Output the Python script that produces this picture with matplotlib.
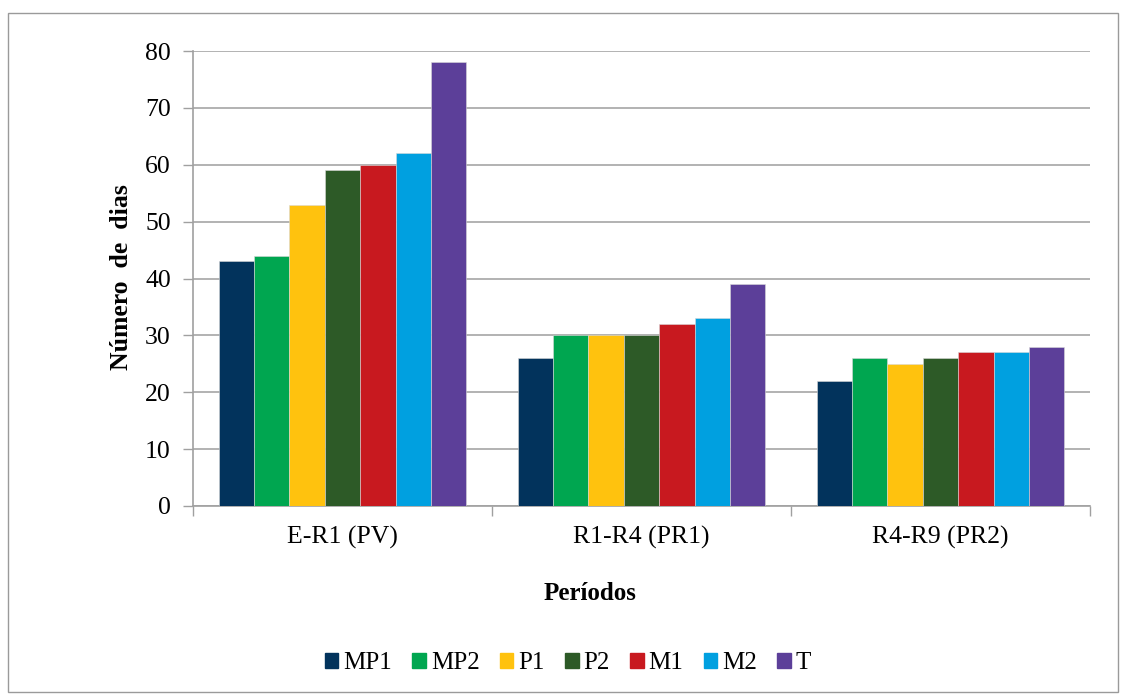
import matplotlib
matplotlib.use("Agg")
import matplotlib.pyplot as plt
import numpy as np
from matplotlib.patches import Rectangle

categories = ["E-R1 (PV)", "R1-R4 (PR1)", "R4-R9 (PR2)"]
series_names = ["MP1", "MP2", "P1", "P2", "M1", "M2", "T"]
MP1 = [43, 26, 22]
MP2 = [44, 30, 26]
P1 = [53, 30, 25]
P2 = [59, 30, 26]
M1 = [60, 32, 27]
M2 = [62, 33, 27]
T = [78, 39, 28]
series_values = [MP1, MP2, P1, P2, M1, M2, T]
colors = ["#02335C", "#00A650", "#FFC20E", "#2D5A27", "#C8191F", "#00A0E0", "#5C3F99"]
yticks = [0, 10, 20, 30, 40, 50, 60, 70, 80]

plt.rcParams['font.family'] = ['Liberation Serif', 'DejaVu Serif']

fig = plt.figure(figsize=(11.23, 6.95), dpi=100)
# outer border
fig.patches.append(Rectangle((8/1123, 1-692/695), 1110/1123, (692-13)/695,
                             transform=fig.transFigure, fill=False,
                             edgecolor="#9A9A9A", linewidth=1.0))

ax = fig.add_axes([193/1123, 1-506/695, (1090-193)/1123, (506-51)/695])
n = len(series_names)
group_w = 0.828
bw = group_w / n
x = np.arange(len(categories))
for i, (name, vals, c) in enumerate(zip(series_names, series_values, colors)):
    ax.bar(x - group_w/2 + bw*(i+0.5), vals, width=bw, color=c, label=name,
           edgecolor="#d8d8d8", linewidth=0.4, zorder=3)

ax.set_xlim(-0.5, len(categories)-0.5)
ax.set_ylim(0, 80)
ax.set_yticks(yticks)
ax.tick_params(axis='y', labelsize=18.5, length=7, width=1, color="#A0A0A0", pad=9, direction='out')
ax.set_xticks(x)
ax.set_xticklabels(categories, fontsize=18.5)
ax.tick_params(axis='x', length=0, pad=14)
# category separator ticks
ax.set_xticks(np.arange(len(categories)+1) - 0.5, minor=True)
ax.tick_params(axis='x', which='minor', length=7, width=1, color="#A0A0A0", direction='out')
ax.yaxis.grid(True, color="#A6A6A6", linewidth=1.2, zorder=0)
ax.set_axisbelow(True)
for s in ["top", "right"]:
    ax.spines[s].set_visible(False)
for s in ["left", "bottom"]:
    ax.spines[s].set_color("#A0A0A0")
    ax.spines[s].set_linewidth(1.2)

fig.text(121/1123, 1-277/695, "Número  de  dias", rotation=90, ha="center", va="center",
         fontsize=18.5, fontweight="bold")
fig.text(590/1123, 1-593/695, "Períodos", ha="center", va="center",
         fontsize=18, fontweight="bold")

handles = [Rectangle((0, 0), 1, 1, color=c) for c in colors]
fig.legend(handles, series_names, loc="center", bbox_to_anchor=(568/1123, 1-663/695),
           ncol=7, frameon=False, fontsize=18, handlelength=0.55, handleheight=0.55,
           handletextpad=0.2, columnspacing=0.8)

fig.savefig("out.png", dpi=100)
